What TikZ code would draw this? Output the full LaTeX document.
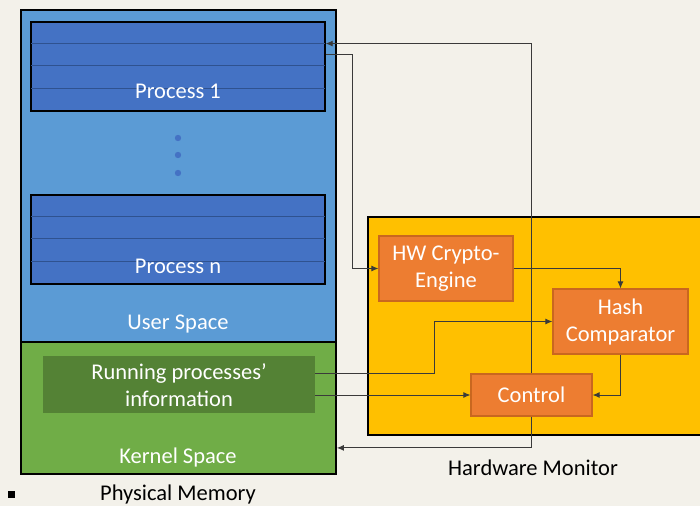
\documentclass[tikz,border=0pt]{standalone}
\usepackage{fontspec}
\setmainfont{Carlito}
\usetikzlibrary{arrows.meta,calc}
\definecolor{bgc}{HTML}{F3F1EA}
\definecolor{userc}{HTML}{5B9BD5}
\definecolor{procc}{HTML}{4472C4}
\definecolor{stripec}{HTML}{2F528F}
\definecolor{kernc}{HTML}{70AD47}
\definecolor{runc}{HTML}{548235}
\definecolor{yelc}{HTML}{FFC000}
\definecolor{orc}{HTML}{ED7D31}
\definecolor{orb}{HTML}{C9671F}
\definecolor{linec}{HTML}{3A3A3A}
\tikzset{
  txt/.style={font=\fontsize{22.5}{27}\selectfont, inner sep=0pt},
  wtxt/.style={txt, text=white},
  region/.style={draw=black, line width=1.8pt, inner sep=0pt},
  procbox/.style={draw=black, line width=1.4pt, fill=procc, inner sep=0pt, minimum width=294pt, minimum height=89pt},
  orbox/.style={draw=orb, line width=1.2pt, fill=orc, inner sep=0pt, text=white, align=center, font=\fontsize{22.5}{27}\selectfont},
  conn/.style={draw=linec, line width=0.9pt},
  arr/.style={conn, -{Latex[length=7pt,width=6pt]}},
}
\begin{document}
\begin{tikzpicture}[x=1pt,y=-1pt]
\clip (0,0) rectangle (700,506);
\useasboundingbox (0,0) rectangle (700,506);
\fill[bgc] (0,0) rectangle (700,506);

% memory regions
\node[region, fill=userc, minimum width=315pt, minimum height=332pt] (user) at (178.5,176) {};
\node[region, fill=kernc, minimum width=315pt, minimum height=132pt] (kernel) at (178.5,408) {};

% process boxes
\node[procbox] (p1) at (178,66.5) {};
\node[procbox] (pn) at (178,239.5) {};
\foreach \k in {1,2,3}{
  \draw[stripec, line width=1pt] ($(p1.north west)+(0.7,22.25*\k)$) -- ($(p1.north east)+(-0.7,22.25*\k)$);
  \draw[stripec, line width=1pt] ($(pn.north west)+(0.7,22.25*\k)$) -- ($(pn.north east)+(-0.7,22.25*\k)$);
}
\node[wtxt, anchor=base] (p1t) at (178,98) {Process 1};
\node[wtxt, anchor=base] (pnt) at (178,273) {Process n};
\foreach \yy [count=\i] in {138,155,173}{
  \fill[procc] (178,\yy) circle (3.2pt);
}
\node[wtxt, anchor=base] (usert) at (178,329) {User Space};

\node[fill=runc, inner sep=0pt, minimum width=272pt, minimum height=57pt] (run) at (179,384.5) {};
\node[wtxt, align=center] (runt) at (179,385) {Running processes’\\information};
\node[wtxt, anchor=base] (kernt) at (178,463) {Kernel Space};

\fill[black] (7.5,490.5) rectangle (14.5,497.5);
\node[txt, anchor=base] (pm) at (178,500) {Physical Memory};

% hardware monitor
\draw[black, line width=1.5pt, fill=yelc] (368,217) rectangle (712,435);
\node (hw) at (368,217) {};
\node[orbox, minimum width=134pt, minimum height=65pt] (crypto) at (446,268.5) {HW Crypto-\\Engine};
\node[orbox, minimum width=135pt, minimum height=65pt] (hash) at (620.5,321.5) {Hash\\Comparator};
\node[orbox, minimum width=121pt, minimum height=42pt] (ctrl) at (531.5,395) {Control};
\node[txt, anchor=base] (hwt) at (533,475) {Hardware Monitor};

% connectors
\draw[arr] (ctrl.north) |- ($(p1.north east)+(0,22.25)$);
\draw[arr] ($(p1.north east)+(0,33)$) -- ++(27,0) |- (crypto.west);
\draw[arr] (crypto.east) -| (hash.north);
\draw[arr] ($(run.east)+(0,-11.5)$) -- ++(119,0) |- (hash.west);
\draw[arr] (run.east |- ctrl.west) -- (ctrl.west);
\draw[arr] (hash.south) |- (ctrl.east);
\draw[arr] (ctrl.south) |- ($(kernel.south east)+(0,-27)$);
\end{tikzpicture}
\end{document}
